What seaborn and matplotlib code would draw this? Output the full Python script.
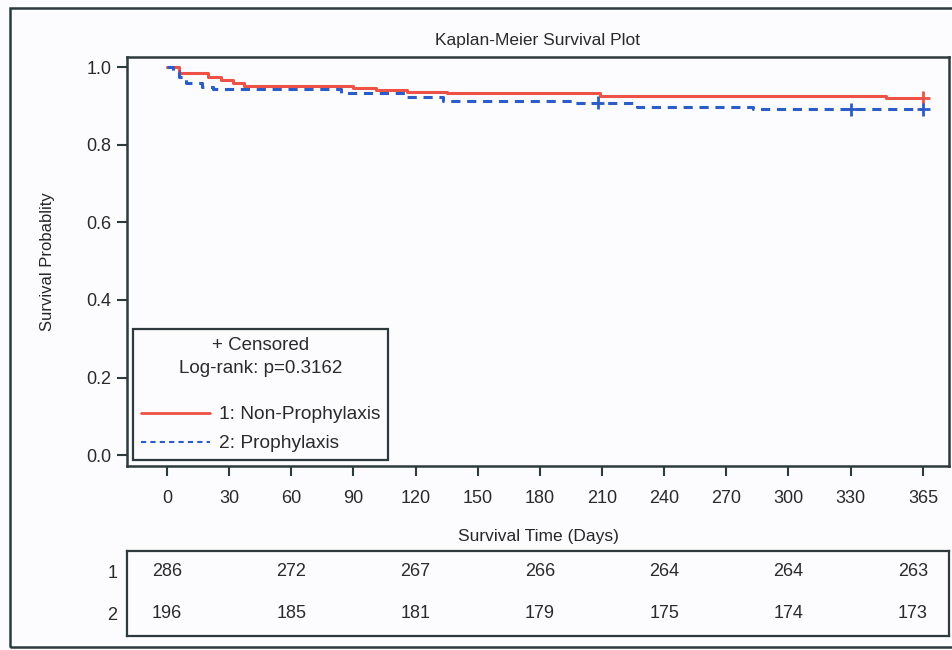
import numpy as np
import pandas as pd
import matplotlib
matplotlib.use("Agg")
import matplotlib.pyplot as plt
from matplotlib.lines import Line2D
from matplotlib.patches import Rectangle
import seaborn as sns

# Kaplan-Meier step points
np_label = "1: Non-Prophylaxis"
p_label = "2: Prophylaxis"

np_time = [0, 6, 20, 26, 32, 37, 90, 101, 116, 135, 209, 347, 365]
np_surv = [1.0, 0.984, 0.975, 0.966, 0.958, 0.952, 0.946, 0.941, 0.937, 0.932, 0.926, 0.921, 0.921]

p_time = [0, 3, 6, 9, 17, 22, 84, 115, 133, 196, 227, 283, 365]
p_surv = [1.0, 0.99, 0.975, 0.96, 0.948, 0.943, 0.934, 0.924, 0.913, 0.908, 0.896, 0.891, 0.891]

# censoring marks (+)
np_cens = [365]
p_cens = [208, 330, 365]

# numbers at risk
risk_times = [0, 60, 120, 180, 240, 300, 360]
risk_np = [286, 272, 267, 266, 264, 264, 263]
risk_p = [196, 185, 181, 179, 175, 174, 173]

x_ticks = [0, 30, 60, 90, 120, 150, 180, 210, 240, 270, 300, 330, 365]
y_ticks = [0.0, 0.2, 0.4, 0.6, 0.8, 1.0]

RED = "#ee5247"
BLUE = "#2c5cc6"
DARK = "#2d3a3e"

sns.set_theme(style="ticks")
plt.rcParams['font.family'] = ['Liberation Sans', 'DejaVu Sans']
plt.rcParams['text.color'] = '#2a2a2a'
plt.rcParams['xtick.color'] = DARK
plt.rcParams['ytick.color'] = DARK
plt.rcParams['xtick.labelcolor'] = '#2a2a2a'
plt.rcParams['ytick.labelcolor'] = '#2a2a2a'


def step_value(times, surv, t):
    idx = np.searchsorted(times, t, side='right') - 1
    return surv[idx]


curves = pd.concat([
    pd.DataFrame({'time': np_time, 'surv': np_surv, 'group': np_label}),
    pd.DataFrame({'time': p_time, 'surv': p_surv, 'group': p_label}),
])
cens = pd.concat([
    pd.DataFrame({'time': np_cens, 'surv': [step_value(np_time, np_surv, t) for t in np_cens], 'group': np_label}),
    pd.DataFrame({'time': p_cens, 'surv': [step_value(p_time, p_surv, t) for t in p_cens], 'group': p_label}),
])
palette = {np_label: RED, p_label: BLUE}

W, H = 953, 650
fig = plt.figure(figsize=(W / 100, H / 100), dpi=100, facecolor='#fcfcfe')

# outer frame
fig.patches.append(Rectangle((10 / W, 1 - 647 / H), 1.0, (647 - 8) / H, transform=fig.transFigure,
                             fill=False, edgecolor=DARK, lw=1.8, zorder=0))

ax = fig.add_axes([127 / W, 1 - 466 / H, (949 - 127) / W, (466 - 57) / H])
ax.set_facecolor('#fcfcfe')

sns.lineplot(data=curves, x='time', y='surv', hue='group', style='group',
             palette=palette, dashes={np_label: '', p_label: (3, 2.2)},
             drawstyle='steps-post', estimator=None, sort=False, lw=2.2,
             legend=False, ax=ax)
sns.scatterplot(data=cens, x='time', y='surv', hue='group', palette=palette,
                marker='+', s=90, linewidth=2, legend=False, ax=ax, zorder=5)

ax.set_xlim(-19.3, 377.5)
ax.set_ylim(-0.028, 1.026)
ax.set_xticks(x_ticks)
ax.set_yticks(y_ticks, [f"{v:.1f}" for v in y_ticks])
ax.tick_params(axis='x', length=7, width=1.5, pad=10, labelsize=13)
ax.tick_params(axis='y', length=7, width=1.5, pad=4, labelsize=13)
for s in ax.spines.values():
    s.set_color(DARK)
    s.set_linewidth(1.8)

ax.set_title('Kaplan-Meier Survival Plot', fontsize=12.5, pad=9)
ax.set_xlabel('Survival Time (Days)', fontsize=12.5, labelpad=16)
ax.set_ylabel('Survival Probablity', fontsize=12, labelpad=23)

handles = [Line2D([], [], color=RED, lw=2),
           Line2D([], [], color=BLUE, lw=1.5, ls=(0, (2.5, 2)))]
leg = ax.legend(handles, [np_label, p_label], title="+ Censored\nLog-rank: p=0.3162",
                loc='lower left', bbox_to_anchor=(6 / 822, 6 / 409), fontsize=13.8,
                title_fontsize=13.5, handlelength=3.6, handletextpad=0.5,
                borderpad=0.4, borderaxespad=0, labelspacing=0.6,
                fancybox=False, framealpha=1, edgecolor=DARK, facecolor='#fcfcfe')
leg.get_frame().set_linewidth(1.6)
leg.get_title().set_linespacing(1.45)
leg.get_title().set_multialignment('center')
leg._legend_box.sep = 21

# number-at-risk table
tab = fig.add_axes([127 / W, 1 - 636 / H, (949 - 127) / W, (636 - 551) / H])
tab.set_facecolor('#fcfcfe')
tab.set_xlim(ax.get_xlim())
tab.set_ylim(85, 0)
tab.set_xticks([])
tab.set_yticks([21, 62], ['1', '2'])
tab.tick_params(axis='y', length=0, pad=7, labelsize=13)
for s in tab.spines.values():
    s.set_color(DARK)
    s.set_linewidth(1.6)
for t, a, b in zip(risk_times, risk_np, risk_p):
    tab.text(t, 21, str(a), ha='center', va='center', fontsize=13)
    tab.text(t, 62, str(b), ha='center', va='center', fontsize=13)

fig.savefig('out.png', dpi=100, facecolor=fig.get_facecolor())
